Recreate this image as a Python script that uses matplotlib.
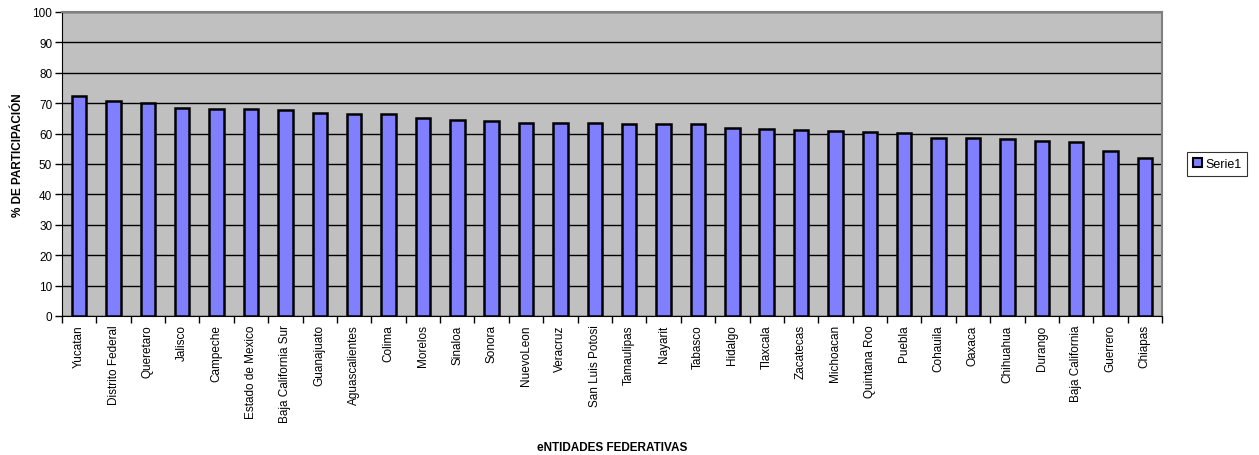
import numpy as np
import matplotlib
matplotlib.use('Agg')
import matplotlib.pyplot as plt
from matplotlib.patches import Patch

entidades = ['Yucatan', 'Distrito Federal', 'Queretaro', 'Jalisco', 'Campeche',
             'Estado de Mexico', 'Baja California Sur', 'Guanajuato', 'Aguascalientes',
             'Colima', 'Morelos', 'Sinaloa', 'Sonora', 'NuevoLeon', 'Veracruz',
             'San Luis Potosi', 'Tamaulipas', 'Nayarit', 'Tabasco', 'Hidalgo',
             'Tlaxcala', 'Zacatecas', 'Michoacan', 'Quintana Roo', 'Puebla',
             'Cohauila', 'Oaxaca', 'Chihuahua', 'Durango', 'Baja California',
             'Guerrero', 'Chiapas']
participacion = [72.2, 70.7, 70.1, 68.5, 68.1, 68.0, 67.6, 66.8, 66.6, 66.4,
                 65.1, 64.5, 64.2, 63.4, 63.4, 63.4, 63.2, 63.0, 63.0, 61.9,
                 61.5, 61.1, 60.8, 60.5, 60.2, 58.6, 58.6, 58.2, 57.7, 57.3,
                 54.2, 52.0]
yticks = list(range(0, 101, 10))

plt.rcParams['font.family'] = ['Liberation Sans', 'DejaVu Sans']

fig = plt.figure(figsize=(12.59, 4.56), dpi=100)
ax = fig.add_axes([0.0492, 0.305, 0.8738, 0.6665])

x = np.arange(len(entidades))
ax.set_facecolor('#C0C0C0')
ax.bar(x, participacion, width=0.42, color='#8080FF', edgecolor='black',
       linewidth=1.8, zorder=3)

ax.set_xlim(-0.5, len(entidades) - 0.5)
ax.set_ylim(0, 100)
ax.set_yticks(yticks)
ax.set_yticklabels([str(v) for v in yticks], fontsize=8.5)
ax.yaxis.grid(True, color='black', linewidth=1.0, zorder=0)

ax.set_xticks(x)
ax.set_xticklabels(entidades, rotation=90, fontsize=8.5)
ax.tick_params(axis='x', length=0, pad=6)
ax.set_xticks(np.arange(-0.5, len(entidades), 1), minor=True)
ax.tick_params(axis='x', which='minor', length=5, direction='out', width=1)
ax.tick_params(axis='y', length=5, direction='out', width=1, pad=2)

for s in ['top', 'right']:
    ax.spines[s].set_color('#808080')
    ax.spines[s].set_linewidth(1.5)
ax.spines['left'].set_color('black')
ax.spines['bottom'].set_color('black')

fig.text(0.0143, 0.66, '% DE PARTICIPACIÓN', fontsize=8.5, fontweight='bold',
         rotation=90, ha='center', va='center')
fig.text(0.4865, 0.005, 'eNTIDADES FEDERATIVAS', fontsize=8.5, fontweight='bold',
         ha='center', va='bottom')

leg = fig.legend(handles=[Patch(facecolor='#8080FF', edgecolor='black', linewidth=1.5, label='Serie1')],
                 loc='center left', bbox_to_anchor=(0.943, 0.638), fontsize=9,
                 frameon=True, fancybox=False, handlelength=0.7, handleheight=0.7,
                 handletextpad=0.3, borderpad=0.45, borderaxespad=0)
leg.get_frame().set_edgecolor('black')
leg.get_frame().set_linewidth(0.8)

fig.savefig('out.png', dpi=100)
